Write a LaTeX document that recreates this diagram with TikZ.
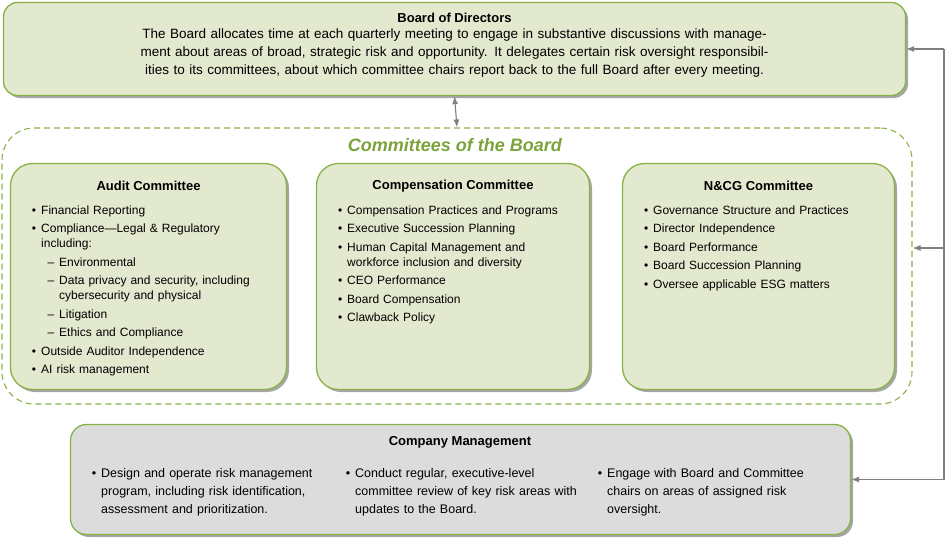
\documentclass[tikz,border=0pt]{standalone}
\usepackage{fontspec}
\setmainfont{Liberation Sans}
\usepackage{enumitem}
\usetikzlibrary{calc,shadows,arrows.meta}
\definecolor{boxfill}{RGB}{226,233,206}
\definecolor{boxline}{RGB}{137,178,70}
\definecolor{titlegreen}{RGB}{122,163,58}
\definecolor{mgmtfill}{RGB}{220,220,220}
\definecolor{connline}{RGB}{128,128,128}
\setlist[itemize]{nosep,itemsep=3.5pt,leftmargin=13pt,label=\textbullet}
\setlist[itemize,2]{leftmargin=18pt,label=--,itemsep=3.5pt,topsep=3.5pt}
\tikzset{
  box/.style={draw=boxline,line width=1.3pt,fill=boxfill,rounded corners=22pt,
    drop shadow={shadow xshift=2.5pt,shadow yshift=-2.5pt,fill=black!35,opacity=1}},
  list/.style={anchor=north west,inner sep=0pt,align=left,
    font=\fontsize{12}{15}\selectfont},
  head/.style={font=\fontsize{13}{15}\selectfont\bfseries},
  conn/.style={draw=connline,line width=1.1pt,-{Latex[length=8pt,width=6pt]}}
}
\begin{document}
\begin{tikzpicture}[x=1pt,y=-1pt]
\useasboundingbox (0,0) rectangle (946,538);
% board
\node[box,rounded corners=14pt,minimum width=902,minimum height=93] (board) at (454.5,49) {};
\node[head] (boardtitle) at (454.5,18) {Board of Directors};
\node[font=\fontsize{13.5}{18}\selectfont,align=center,text width=800] (boardtext) at (454.5,53)
  {The Board allocates time at each quarterly meeting to engage in substantive discussions with management about areas of broad, strategic risk and opportunity. It delegates certain risk oversight responsibilities to its committees, about which committee chairs report back to the full Board after every meeting.};
% committees
\node[draw=boxline,line width=1.1pt,dashed,dash pattern=on 6pt off 4pt,rounded corners=32pt,
  minimum width=910,minimum height=276] (comm) at (457,266) {};
\node[font=\fontsize{18}{20}\selectfont\bfseries\itshape,text=titlegreen] (commtitle) at (455,145) {Committees of the Board};
\node[box,minimum width=276,minimum height=226] (audit) at (148.5,276.5) {};
\node[box,minimum width=273,minimum height=226] (comp) at (453,276.5) {};
\node[box,minimum width=272,minimum height=226] (ncg) at (758.5,276.5) {};
\node[head] at (148.5,186) {Audit Committee};
\node[head] at (453,186) {Compensation Committee};
\node[head] at (758.5,186) {N\&CG Committee};
\node[list,text width=245] (auditlist) at (28,199) {\begin{itemize}
  \item Financial Reporting
  \item Compliance---Legal \& Regulatory including:
  \begin{itemize}
    \item Environmental
    \item Data privacy and security, including cybersecurity and physical
    \item Litigation
    \item Ethics and Compliance
  \end{itemize}
  \item Outside Auditor Independence
  \item AI risk management
\end{itemize}};
\node[list,text width=235] (complist) at (334,199) {\begin{itemize}
  \item Compensation Practices and Programs
  \item Executive Succession Planning
  \item Human Capital Management and workforce inclusion and diversity
  \item CEO Performance
  \item Board Compensation
  \item Clawback Policy
\end{itemize}};
\node[list,text width=245] (ncglist) at (640,199) {\begin{itemize}
  \item Governance Structure and Practices
  \item Director Independence
  \item Board Performance
  \item Board Succession Planning
  \item Oversee applicable ESG matters
\end{itemize}};
% management
\node[box,fill=mgmtfill,rounded corners=16pt,minimum width=780,minimum height=110] (mgmt) at (460.5,479.5) {};
\node[head] at (460,442) {Company Management};
\node[list,text width=235,font=\fontsize{12.5}{18}\selectfont] (mgmta) at (88,459) {\begin{itemize}
  \item Design and operate risk management program, including risk identification, assessment and prioritization.\end{itemize}};
\node[list,text width=235,font=\fontsize{12.5}{18}\selectfont] (mgmtb) at (342,459) {\begin{itemize}
  \item Conduct regular, executive-level committee review of key risk areas with updates to the Board.\end{itemize}};
\node[list,text width=235,font=\fontsize{12.5}{18}\selectfont] (mgmtc) at (594,459) {\begin{itemize}
  \item Engage with Board and Committee chairs on areas of assigned risk oversight.\end{itemize}};
% connectors
\draw[conn,{Latex[length=8pt,width=6pt]}-{Latex[length=8pt,width=6pt]}] (board.south) -- (comm.north);
\coordinate (rail) at (944,0);
\coordinate (commin) at ($(comm.east)+(0,-18)$);
\draw[draw=connline,line width=1.1pt] (board.east -| rail) -- (mgmt.east -| rail);
\draw[conn] (board.east -| rail) -- (board.east);
\draw[conn] (commin -| rail) -- (commin);
\draw[conn] (mgmt.east -| rail) -- (mgmt.east);
\end{tikzpicture}
\end{document}
